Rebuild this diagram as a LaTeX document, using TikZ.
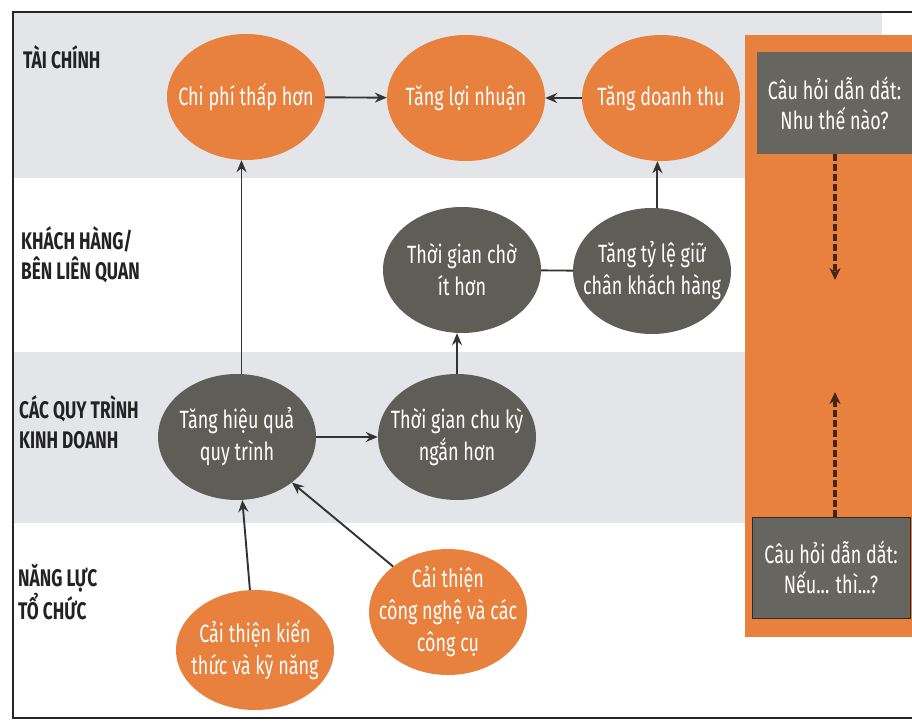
\documentclass[tikz,border=0pt]{standalone}
\usepackage{fontspec}
\setmainfont{Fira Sans}[FakeStretch=0.72]
\usetikzlibrary{arrows.meta,shapes.geometric}
\definecolor{orng}{HTML}{E8803E}
\definecolor{dgray}{HTML}{5E5D58}
\definecolor{bgray}{HTML}{E4E5E9}
\definecolor{bxgray}{HTML}{67655F}
\definecolor{linec}{HTML}{333333}
\definecolor{labc}{HTML}{222222}
\begin{document}
\begin{tikzpicture}[x=1pt,y=-1pt,
  ell/.style={ellipse,inner sep=-30pt,minimum width=158pt,minimum height=126pt,
    align=center,text=white,font=\fontsize{25}{32}\selectfont},
  oell/.style={ell,fill=orng},
  gell/.style={ell,fill=dgray},
  arr/.style={draw=linec,line width=1.9pt,-{Stealth[length=12pt,width=10pt,inset=4pt]}},
  plain/.style={draw=linec,line width=1.9pt},
  lab/.style={anchor=west,align=left,text=labc,font=\bfseries\fontsize{24}{30}\selectfont,inner sep=0pt},
  qbox/.style={fill=bxgray,inner sep=0pt,align=center,text=white,font=\fontsize{25}{30}\selectfont},
  dasharr/.style={draw=black!70!orng,line width=3.5pt,dash pattern=on 7pt off 3pt,-{Stealth[length=12pt,width=11pt,inset=4pt]}}
]
\useasboundingbox (0,0) rectangle (912,722);
\fill[white] (0,0) rectangle (912,722);
% bands
\fill[bgray] (13,12) rectangle (882,178);
\fill[bgray] (13,352) rectangle (745,523);
% frame
\draw[line width=1.8pt,black!85] (912,12) -- (13,12) -- (13,718) -- (912,718);
% right panel
\fill[orng] (745,35) rectangle (912,637);
\node[qbox,minimum width=155pt,minimum height=102pt] (q1) at (834.5,103) {Câu hỏi dẫn dắt:\\Nhu thế nào?};
\node[qbox,draw=black!55!bxgray,line width=1pt,minimum width=158pt,minimum height=101pt] (q2) at (831,567.5) {Câu hỏi dẫn dắt:\\Nếu... thì...?};
\coordinate (d1) at (835,280);
\coordinate (d2) at (835,392);
\draw[dasharr] (q1.south -| d1) -- (d1);
\draw[dasharr] (q2.north -| d2) -- (d2);
% labels
\node[lab] (l1) at (23,57) {TÀI CHÍNH};
\node[lab] (l2) at (21,255) {KHÁCH HÀNG/\\BÊN LIÊN QUAN};
\node[lab] (l3) at (19,422) {CÁC QUY TRÌNH\\KINH DOANH};
\node[lab] (l4) at (18,592) {NĂNG LỰC\\TỔ CHỨC};
% ellipses
\node[oell] (chiphi) at (246,97) {Chi phí thấp hơn};
\node[oell] (loinhuan) at (466,98) {Tăng lợi nhuận};
\node[oell] (doanhthu) at (661,98) {Tăng doanh thu};
\node[gell] (cho) at (462,270) {Thời gian chờ\\ít hơn};
\node[gell] (giu) at (652,271) {Tăng tỷ lệ giữ\\chân khách hàng};
\node[gell] (hieuqua) at (237,437) {Tăng hiệu quả\\quy trình};
\node[gell] (chuky) at (457,437) {Thời gian chu kỳ\\ngắn hơn};
\node[oell,minimum height=120pt] (kienthuc) at (255,650) {Cải thiện kiến\\thức và kỹ năng};
\node[oell] (congnghe) at (448,612) {Cải thiện\\công nghệ và các\\công cụ};
% connectors
\draw[arr] (chiphi) -- (loinhuan);
\draw[arr] (doanhthu) -- (loinhuan);
\path (hieuqua.north) -- (chiphi.south) coordinate[pos=0.5] (m1);
\draw[arr] (hieuqua.north -| m1) -- (chiphi.south -| m1);
\path (giu.north) -- (doanhthu.south) coordinate[pos=0.6] (m2);
\draw[arr] (giu.north -| m2) -- (doanhthu.south -| m2);
\path (chuky.north) -- (cho.south) coordinate[pos=0.0] (m3);
\draw[arr] (chuky.north -| m3) -- (cho.south -| m3);
\draw[plain] (cho) -- (giu);
\draw[arr] (hieuqua) -- (chuky);
\draw[arr] (kienthuc) -- (hieuqua);
\draw[arr] (congnghe) -- (hieuqua);
\end{tikzpicture}
\end{document}
